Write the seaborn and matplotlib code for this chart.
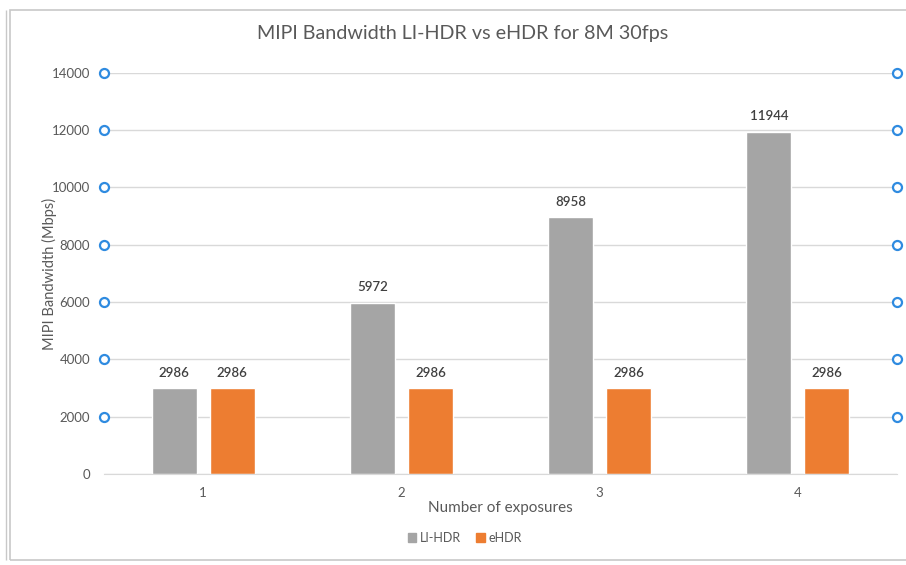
import numpy as np
import pandas as pd
import matplotlib.pyplot as plt
import matplotlib.patches as mpatches
import seaborn as sns

# данни от графиката
exposures = ['1', '2', '3', '4']
li_hdr = [2986, 5972, 8958, 11944]
ehdr = [2986, 2986, 2986, 2986]
series = ['LI-HDR', 'eHDR']
y_ticks = [0, 2000, 4000, 6000, 8000, 10000, 12000, 14000]

df = pd.DataFrame({
    'exp': exposures * 2,
    'val': li_hdr + ehdr,
    'series': [series[0]] * 4 + [series[1]] * 4,
})

sns.set_style('white')
plt.rcParams['font.family'] = ['Lato', 'DejaVu Sans']

txt = '#595959'
colors = ['#A5A5A5', '#ED7D31']
fig = plt.figure(figsize=(9.06, 5.65), dpi=100)
ax = fig.add_axes([0.1148, 0.161, 0.8752, 0.710])

sns.barplot(data=df, x='exp', y='val', hue='series', order=exposures,
            hue_order=series, palette=colors, saturation=1,
            width=0.586, gap=0.225, ax=ax, legend=False)

for cont in ax.containers:
    ax.bar_label(cont, fmt='%d', padding=7, color='#404040', fontsize=9.5,
                 fontweight='semibold')

ax.set_xlim(-0.5, 3.5)
ax.set_ylim(0, 14000)
ax.set_yticks(y_ticks)
ax.set_yticklabels([str(t) for t in y_ticks])
ax.tick_params(axis='both', length=0, colors=txt, labelsize=9.5)
ax.tick_params(axis='y', pad=10)
ax.tick_params(axis='x', pad=9)
ax.yaxis.grid(True, color='#D9D9D9', lw=1)
ax.set_axisbelow(True)
for s in ['top', 'right', 'left']:
    ax.spines[s].set_visible(False)
ax.spines['bottom'].set_color('#D9D9D9')

ax.set_xlabel('Number of exposures', color=txt, fontsize=11, labelpad=2)
ax.set_ylabel('MIPI Bandwidth (Mbps)', color=txt, fontsize=10.5, labelpad=-4)
fig.suptitle('MIPI Bandwidth LI-HDR vs eHDR for 8M 30fps', color=txt,
             fontsize=14.2, x=0.511, y=0.955)

# маркери за избраните линии (Excel)
for t in y_ticks[1:]:
    ax.plot([-0.5, 3.5], [t, t], ls='none', marker='o', ms=6.5, mfc='white',
            mec='#2F8BE0', mew=1.6, clip_on=False, zorder=5)

handles = [mpatches.Patch(color=c, label=l) for c, l in zip(colors, series)]
fig.legend(handles=handles, loc='center', bbox_to_anchor=(0.513, 0.048),
           ncol=2, frameon=False, fontsize=9, labelcolor=txt,
           handlelength=0.7, handleheight=0.7, handletextpad=0.3,
           columnspacing=1.2)

# рамка на графиката
fig.patches.append(mpatches.Rectangle((0.011, 0.009), 1.0, 0.973,
                                      transform=fig.transFigure, fill=False,
                                      ec='#C8C8C8', lw=1.2))
fig.patches.append(mpatches.Rectangle((0.0065, 0.009), 0.0, 0.973,
                                      transform=fig.transFigure, fill=False,
                                      ec='#C8C8C8', lw=1.0))

plt.savefig('out.png', dpi=100)
